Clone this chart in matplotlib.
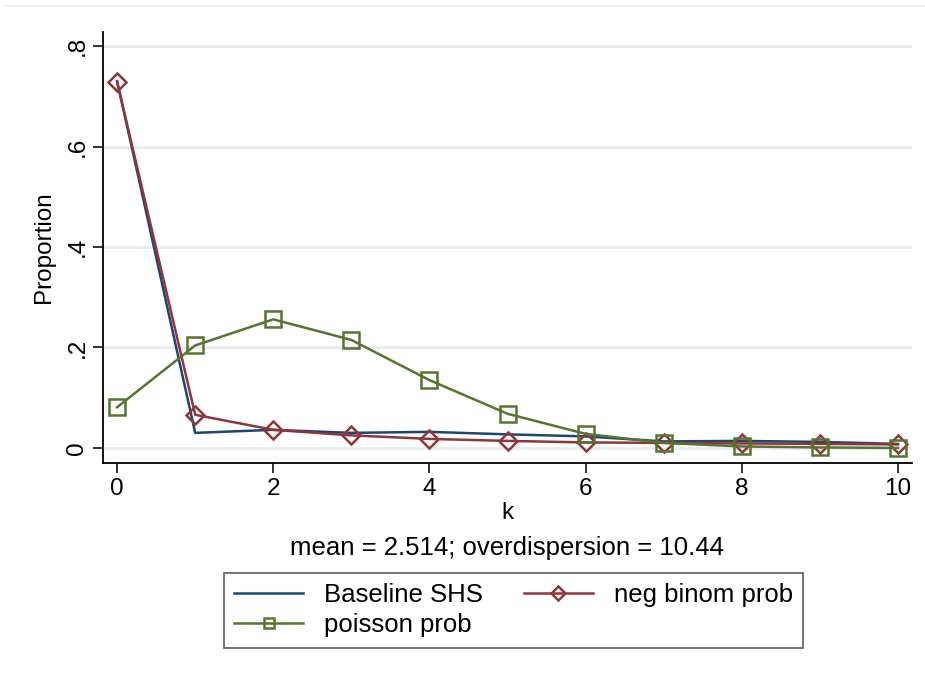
import numpy as np
import matplotlib.pyplot as plt
from matplotlib.lines import Line2D

plt.rcParams['font.family'] = ['Liberation Sans', 'DejaVu Sans']

# counts k and the three distributions
k = np.arange(0, 11)
baseline_shs = [0.730, 0.030, 0.036, 0.030, 0.032, 0.027, 0.023, 0.013, 0.014, 0.012, 0.008]
neg_binom = [0.729, 0.066, 0.036, 0.025, 0.018, 0.014, 0.011, 0.010, 0.009, 0.008, 0.007]
poisson = [0.081, 0.204, 0.256, 0.215, 0.135, 0.068, 0.028, 0.010, 0.003, 0.001, 0.000]

yticks = [0, 0.2, 0.4, 0.6, 0.8]
ylabels = ['0', '.2', '.4', '.6', '.8']
xticks = [0, 2, 4, 6, 8, 10]

navy = '#1a476f'
maroon = '#90353b'
green = '#55752f'

fig = plt.figure(figsize=(9.25, 6.78), dpi=100)
ax = fig.add_axes([0.1114, 0.3171, 0.8746, 0.6357])

ax.plot(k, baseline_shs, color=navy, lw=1.8, label='Baseline SHS')
ax.plot(k, neg_binom, color=maroon, lw=1.8, marker='D', ms=9.5, mfc='none',
        mec=maroon, mew=1.8, label='neg binom prob')
ax.plot(k, poisson, color=green, lw=1.8, marker='s', ms=11, mfc='none',
        mec=green, mew=1.8, label='poisson prob')

ax.set_xlim(-0.18, 10.18)
ax.set_ylim(-0.030, 0.828)
ax.set_yticks(yticks)
ax.set_yticklabels(ylabels, rotation=90, va='center')
ax.set_xticks(xticks)
ax.tick_params(labelsize=17.5, length=7, width=1.3, color='#222222')
ax.grid(axis='y', color='#e6eef0', lw=2)
ax.set_axisbelow(True)
for s in ['top', 'right']:
    ax.spines[s].set_visible(False)
for s in ['left', 'bottom']:
    ax.spines[s].set_linewidth(1.3)
ax.set_ylabel('Proportion', fontsize=17.5, labelpad=8)
ax.set_xlabel('k', fontsize=17.5, labelpad=2)

fig.text(0.548, 0.192, 'mean = 2.514; overdispersion = 10.44', fontsize=18.5,
         ha='center', va='center')

h, l = ax.get_legend_handles_labels()
order = [0, 2, 1]
leg = fig.legend([h[i] for i in order], [l[i] for i in order], ncol=2,
                 loc='center', bbox_to_anchor=(0.555, 0.1), fontsize=18.5,
                 frameon=True, fancybox=False, edgecolor='#333333',
                 handlelength=2.7, columnspacing=1.6, labelspacing=0.25,
                 borderpad=0.4, markerscale=0.7)
leg.get_frame().set_linewidth(1.2)

# faint rule across the top of the page
fig.add_artist(Line2D([0.005, 1.0], [0.991, 0.991], color='#eeeeee', lw=1.2))

fig.savefig('out.png', dpi=100)
